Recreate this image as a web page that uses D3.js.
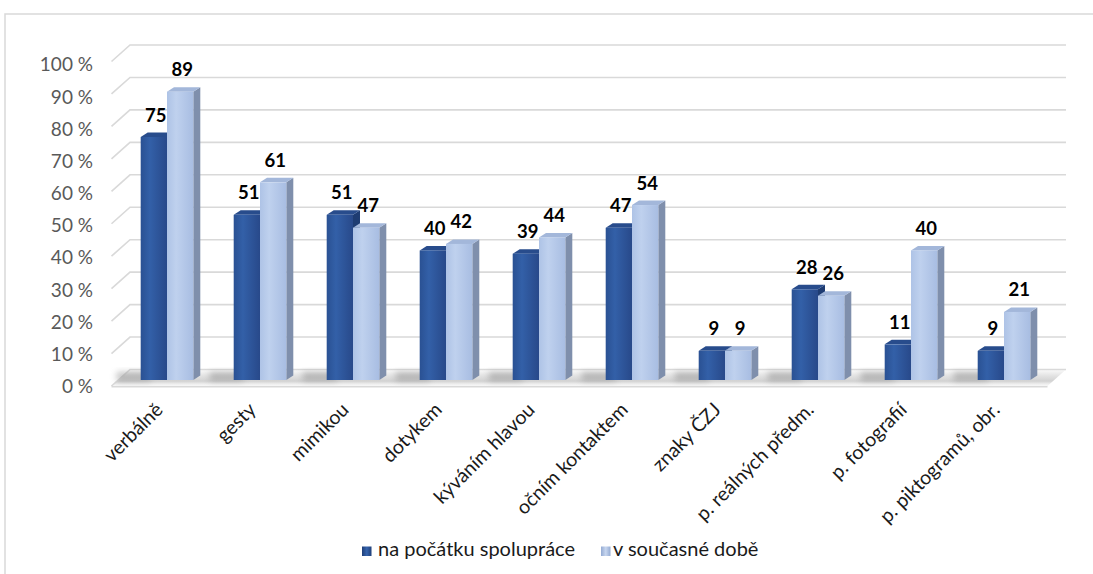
<!DOCTYPE html>
<html>
<head>
<meta charset="utf-8">
<script src="https://cdn.jsdelivr.net/npm/d3@7"></script>
<style>
  body { margin: 0; background: #fff; }
  svg { display: block; font-family: Lato, "Noto Sans", sans-serif; }
</style>
</head>
<body>
<svg id="chart" width="1093" height="574"></svg>
<script>
// Ways of communicating, share of respondents (%)
const categories = ["verbálně", "gesty", "mimikou", "dotykem", "kýváním hlavou",
  "očním kontaktem", "znaky ČZJ", "p. reálných předm.", "p. fotografií", "p. piktogramů, obr."];
const seriesNames = ["na počátku spolupráce", "v současné době"];
const startValues = [75, 51, 51, 40, 39, 47, 9, 28, 11, 9];
const currentValues = [89, 61, 47, 42, 44, 54, 9, 26, 40, 21];
const yTickValues = [0, 10, 20, 30, 40, 50, 60, 70, 80, 90, 100];

const svg = d3.select("#chart");
const defs = svg.append("defs");

// chart frame
svg.append("rect").attr("x", 5).attr("y", 14).attr("width", 1200).attr("height", 700)
  .attr("fill", "#fff").attr("stroke", "#d9d9d9").attr("stroke-width", 1.5);

// 3D geometry
const wallDepth = { dx: 18.5, dy: -16.5 };
const barDepth = { dx: 7, dy: -4.5 };
const wallLeft = 130, wallRight = 1066;
const yWall = d3.scaleLinear().domain([0, 100]).range([369.5, 45]);
const yBar = d3.scaleLinear().domain([0, 100]).range([380, 56]);
const yLabel = d3.scaleLinear().domain([0, 100]).range([386, 64.5]);
const x0 = d3.scaleBand().domain(categories).range([120.5, 1050.5]);
const x1 = d3.scaleBand().domain(seriesNames).range([0, 52.6]);

// gradients
function hGrad(id, stops) {
  const g = defs.append("linearGradient").attr("id", id)
    .attr("x1", "0").attr("y1", "0").attr("x2", "1").attr("y2", "0");
  stops.forEach(([o, c]) => g.append("stop").attr("offset", o).attr("stop-color", c));
}
function vGrad(id, stops) {
  const g = defs.append("linearGradient").attr("id", id)
    .attr("x1", "0").attr("y1", "0").attr("x2", "0").attr("y2", "1");
  stops.forEach(([o, c]) => g.append("stop").attr("offset", o).attr("stop-color", c));
}
hGrad("frontDark", [[0, "#2a5193"], [0.35, "#3360a8"], [1, "#28498a"]]);
hGrad("frontLight", [[0, "#aec3e6"], [0.35, "#bfd1ee"], [1, "#a8bde2"]]);
vGrad("floorGrad", [[0, "#fafafa"], [0.4, "#e2e2e2"], [0.7, "#d2d2d2"], [0.88, "#eeeeee"], [1, "#f7f7f7"]]);
hGrad("legDark", [[0, "#1f3f78"], [0.5, "#3563ad"], [1, "#1f3f78"]]);
hGrad("legLight", [[0, "#94abd3"], [0.5, "#c7d6ef"], [1, "#94abd3"]]);
defs.append("filter").attr("id", "soft").attr("x", "-50%").attr("y", "-50%")
  .attr("width", "200%").attr("height", "200%")
  .append("feGaussianBlur").attr("stdDeviation", 3);

const barStyles = [
  { front: "url(#frontDark)", side: "#1e3c72", top: "#284c8c" },
  { front: "url(#frontLight)", side: "#7f8fac", top: "#a3b7da" }
];

// floor
const fy = yWall(0) - wallDepth.dy;
const floor = svg.append("g");
floor.append("rect").attr("x", wallLeft - wallDepth.dx).attr("y", fy - 1)
  .attr("width", wallRight - wallLeft).attr("height", 2.5).attr("fill", "#d9d9d9");
floor.append("path")
  .attr("d", `M${wallLeft - wallDepth.dx},${fy} L${wallRight - wallDepth.dx},${fy} L${wallRight},${yWall(0)} L${wallLeft},${yWall(0)} Z`)
  .attr("fill", "url(#floorGrad)");

// gridlines on left side wall and back wall
svg.append("g").selectAll("path").data(yTickValues).join("path")
  .attr("d", d => `M${wallLeft - wallDepth.dx},${yWall(d) - wallDepth.dy} L${wallLeft},${yWall(d)} L${wallRight},${yWall(d)}`)
  .attr("fill", "none").attr("stroke", "#d9d9d9").attr("stroke-width", 1.6);

// soft shadows cast on the floor by each bar pair
svg.append("g").selectAll("rect").data(categories).join("rect")
  .attr("x", d => x0(d) + x0.bandwidth() / 2 - 26.3 - 24)
  .attr("y", 372).attr("width", 34).attr("height", 9)
  .attr("fill", "#8a8a8a").attr("opacity", 0.5).attr("filter", "url(#soft)");

// y axis labels
const yAxis = d3.axisLeft(yLabel).tickValues(yTickValues).tickSize(0).tickPadding(0)
  .tickFormat(d => d + " %");
const yg = svg.append("g").attr("transform", "translate(93,0)").call(yAxis);
yg.select(".domain").remove();
yg.selectAll("text").attr("font-family", "Lato, sans-serif").attr("font-size", 19)
  .attr("fill", "#595959").attr("dy", "0.34em");

// bars
const rows = categories.map((c, i) => ({ c, vals: [startValues[i], currentValues[i]] }));
const groups = svg.append("g").selectAll("g").data(rows).join("g")
  .attr("transform", d => `translate(${x0(d.c) + x0.bandwidth() / 2 - 26.3},0)`);

groups.each(function (row) {
  const g = d3.select(this);
  row.vals.forEach((v, s) => {
    const st = barStyles[s];
    const x = x1(seriesNames[s]);
    const w = x1.bandwidth();
    const y = yBar(v), base = yBar(0);
    const { dx, dy } = barDepth;
    g.append("path")
      .attr("d", `M${x + w},${y} L${x + w + dx},${y + dy} L${x + w + dx},${base + dy} L${x + w},${base} Z`)
      .attr("fill", st.side);
    g.append("path")
      .attr("d", `M${x},${y} L${x + dx},${y + dy} L${x + w + dx},${y + dy} L${x + w},${y} Z`)
      .attr("fill", st.top);
    g.append("rect").attr("x", x).attr("y", y).attr("width", w).attr("height", base - y)
      .attr("fill", st.front);
  });
});

// data labels
groups.each(function (row) {
  const g = d3.select(this);
  row.vals.forEach((v, s) => {
    g.append("text")
      .attr("x", x1(seriesNames[s]) + x1.bandwidth() / 2 + 2)
      .attr("y", yBar(v) - 15.5)
      .attr("text-anchor", "middle")
      .attr("font-family", "Lato, sans-serif").attr("font-weight", 700)
      .attr("font-size", 18.5).attr("fill", "#000")
      .text(v);
  });
});

// category labels
const xAxis = d3.axisBottom(x0).tickSize(0);
const xg = svg.append("g").attr("transform", "translate(-3,411)").call(xAxis);
xg.select(".domain").remove();
xg.selectAll("text")
  .attr("x", 0).attr("y", 0).attr("dy", 0)
  .attr("text-anchor", "end").attr("transform", "rotate(-45)")
  .attr("font-family", "Lato, sans-serif").attr("font-size", 19.5).attr("fill", "#1a1a1a");

// legend
const legendItems = [
  { name: seriesNames[0], fill: "url(#legDark)", x: 362, tx: 378 },
  { name: seriesNames[1], fill: "url(#legLight)", x: 601, tx: 613 }
];
const lg = svg.append("g");
legendItems.forEach(it => {
  lg.append("rect").attr("x", it.x).attr("y", 546.5).attr("width", 9.5).attr("height", 9.5)
    .attr("fill", it.fill);
  lg.append("text").attr("x", it.tx).attr("y", 556)
    .attr("font-family", "Lato, sans-serif").attr("font-size", 20).attr("fill", "#1a1a1a")
    .text(it.name);
});
</script>
</body>
</html>
